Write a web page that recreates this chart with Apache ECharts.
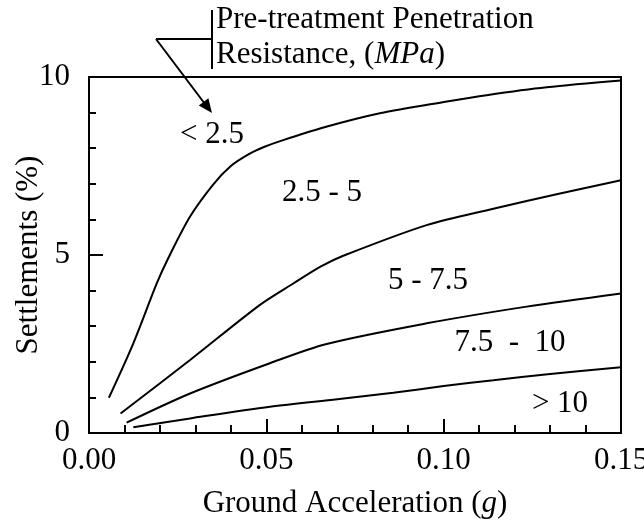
<!DOCTYPE html>
<html lang="en">

<head>
    <meta charset="UTF-8">
    <title>Settlements vs Ground Acceleration</title>
    <script src="https://cdn.jsdelivr.net/npm/echarts@6/dist/echarts.min.js"></script>
    <style>
        body { margin: 0; background: #fff; }
    </style>
</head>

<body>
    <div id="main" style="width: 644px; height: 523px;"></div>
    <script type="text/javascript">
        // curves: [ground acceleration (g), settlement (%)]
        const below2_5 = [[0.0056, 0.99], [0.0125, 2.52], [0.0191, 4.2], [0.0221, 4.86], [0.0285, 6.08], [0.035, 6.98],
            [0.04, 7.5], [0.0452, 7.84], [0.0495, 8.04], [0.0539, 8.2], [0.0661, 8.58], [0.082, 8.98], [0.1009, 9.31],
            [0.1121, 9.49], [0.129, 9.71], [0.15, 9.9]];
        const from2_5to5 = [[0.0089, 0.55], [0.0285, 2.05], [0.0482, 3.6], [0.0576, 4.2], [0.0654, 4.68], [0.0717, 4.98],
            [0.0952, 5.84], [0.114, 6.3], [0.1328, 6.73], [0.15, 7.1]];
        const from5to7_5 = [[0.0106, 0.29], [0.0285, 1.11], [0.051, 1.96], [0.067, 2.5], [0.0952, 3.08],
            [0.1234, 3.55], [0.15, 3.92]];
        const above10 = [[0.0125, 0.16], [0.0285, 0.41], [0.051, 0.74], [0.07, 0.95], [0.0858, 1.13], [0.1, 1.32],
            [0.114, 1.48], [0.13, 1.66], [0.15, 1.85]];

        // curve captions and where they sit (data coords)
        const captions = ['< 2.5', '2.5 - 5', '5 - 7.5', '7.5  -  10', '> 10'];
        const captionAt = [[0.0347, 8.37], [0.0657, 6.74], [0.0956, 4.27], [0.1187, 2.53], [0.1328, 0.81]];

        const font = 'Liberation Serif, Times New Roman, serif';

        let myChart = echarts.init(document.getElementById('main'));

        const curve = (data) => ({
            type: 'line',
            data: data,
            smooth: 0.3,
            symbol: 'none',
            lineStyle: { color: '#000', width: 2 }
        });

        myChart.setOption({
            animation: false,
            grid: {
                left: 89, right: 23, top: 77, bottom: 90,
                outerBoundsMode: 'none',
                containLabel: false,
                show: true, borderColor: '#000', borderWidth: 2
            },
            xAxis: {
                type: 'value',
                min: 0, max: 0.15, interval: 0.05,
                name: 'Ground Acceleration ({i|g})',
                nameLocation: 'middle',
                nameGap: 55,
                nameMoveOverlap: false,
                nameTextStyle: {
                    fontFamily: font, fontSize: 31, color: '#000',
                    rich: { i: { fontFamily: font, fontSize: 31, fontStyle: 'italic', color: '#000' } }
                },
                axisLine: { lineStyle: { color: '#000', width: 2 } },
                axisTick: { inside: true, length: 14, lineStyle: { color: '#000', width: 2 } },
                minorTick: { show: true, splitNumber: 5, length: 8, lineStyle: { color: '#000', width: 2 } },
                splitLine: { show: false },
                axisLabel: {
                    fontFamily: font, fontSize: 31, color: '#000', margin: 12,
                    formatter: (v) => v.toFixed(2)
                }
            },
            yAxis: {
                type: 'value',
                min: 0, max: 10, interval: 5,
                name: 'Settlements (%)',
                nameLocation: 'middle',
                nameGap: 45,
                nameMoveOverlap: false,
                nameTextStyle: { fontFamily: font, fontSize: 31, color: '#000' },
                axisLine: { lineStyle: { color: '#000', width: 2 } },
                axisTick: { inside: true, length: 14, lineStyle: { color: '#000', width: 2 } },
                minorTick: { show: true, splitNumber: 5, length: 7, lineStyle: { color: '#000', width: 2 } },
                splitLine: { show: false },
                axisLabel: { fontFamily: font, fontSize: 31, color: '#000', margin: 19 }
            },
            series: [curve(below2_5), curve(from2_5to5), curve(from5to7_5), curve(above10)]
        });

        // captions placed through the chart's own scales
        const graphics = captions.map((t, i) => {
            const p = myChart.convertToPixel({ gridIndex: 0 }, captionAt[i]);
            return {
                type: 'text', x: p[0], y: p[1],
                style: { text: t, font: '31px ' + font, fill: '#000', align: 'center', verticalAlign: 'middle' }
            };
        });

        // legend-like note with bracket and arrow at the top
        graphics.push(
            {
                type: 'text', x: 216, y: 20,
                style: { text: 'Pre-treatment Penetration', font: '31px ' + font, fill: '#000', verticalAlign: 'middle' }
            },
            {
                type: 'text', x: 216, y: 55,
                style: {
                    text: 'Resistance, ({i|MPa})', font: '31px ' + font, fill: '#000', verticalAlign: 'middle',
                    rich: { i: { fontFamily: font, fontSize: 31, fontStyle: 'italic', fill: '#000' } }
                }
            },
            { type: 'line', shape: { x1: 212, y1: 10, x2: 212, y2: 69 }, style: { stroke: '#000', lineWidth: 2 } },
            { type: 'line', shape: { x1: 156, y1: 39, x2: 212, y2: 39 }, style: { stroke: '#000', lineWidth: 2 } },
            { type: 'line', shape: { x1: 156, y1: 39, x2: 205, y2: 104 }, style: { stroke: '#000', lineWidth: 2 } },
            { type: 'polygon', shape: { points: [[212, 113], [198.8, 105.4], [208.4, 98.2]] }, style: { fill: '#000' } }
        );

        myChart.setOption({ graphic: graphics });
    </script>
</body>

</html>
